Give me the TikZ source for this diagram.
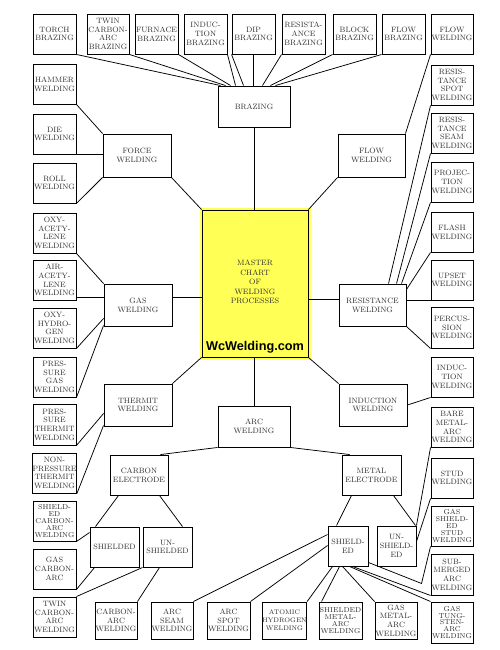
\documentclass[tikz,border=0pt]{standalone}
\usepackage{fontspec}
\newfontfamily\arialfont{Liberation Sans}
\usetikzlibrary{calc}
\definecolor{yel}{RGB}{255,255,85}
\definecolor{ink}{RGB}{45,45,45}
\tikzset{
  box/.style={draw=black, line width=0.95pt, inner sep=0pt, align=center, text=ink,
              font=\fontsize{7.7}{8.7}\selectfont},
  tight/.style={font=\fontsize{7.1}{6.9}\selectfont},
  small/.style={font=\fontsize{6.6}{8.2}\selectfont},
  conn/.style={line width=0.75pt, draw=black},
}
\newcommand\mkbox[7][]{%
  \node[box,#1,minimum width={(#5-#3)*1pt},minimum height={(#6-#4)*1pt}]
    (#2) at ({(#3+#5)/2},{(#4+#6)/2}) {#7};}
\begin{document}
\begin{tikzpicture}[x=1pt,y=-1pt]
\useasboundingbox[fill=white] (0,0) rectangle (500,650);
% ---------- top row
\mkbox{torch}{33}{14}{76}{54}{TORCH\\BRAZING}
\mkbox{twin}{87}{14}{129}{54}{TWIN\\CARBON-\\ARC\\BRAZING}
\mkbox{furnace}{135}{14}{178}{54}{FURNACE\\BRAZING}
\mkbox{inducb}{184}{14}{227}{54}{INDUC-\\TION\\BRAZING}
\mkbox{dip}{232}{14}{275}{54}{DIP\\BRAZING}
\mkbox{resb}{282}{14}{325}{54}{RESISTA-\\ANCE\\BRAZING}
\mkbox{block}{333}{14}{376}{54}{BLOCK\\BRAZING}
\mkbox{flowb}{382}{14}{425}{54}{FLOW\\BRAZING}
\mkbox{floww}{431}{14}{473}{54}{FLOW\\WELDING}
% ---------- left column
\mkbox{hammer}{33}{64}{76}{104}{HAMMER\\WELDING}
\mkbox{die}{33}{114}{76}{154}{DIE\\WELDING}
\mkbox{roll}{33}{163}{76}{203}{ROLL\\WELDING}
\mkbox{oxyac}{33}{213}{76}{253}{OXY-\\ACETY-\\LENE\\WELDING}
\mkbox{airac}{33}{260}{76}{300}{AIR-\\ACETY-\\LENE\\WELDING}
\mkbox{oxyhy}{33}{308}{76}{348}{OXY-\\HYDRO-\\GEN\\WELDING}
\mkbox{presgas}{33}{357}{76}{397}{PRES-\\SURE\\GAS\\WELDING}
\mkbox{presth}{33}{404}{76}{445}{PRES-\\SURE\\THERMIT\\WELDING}
\mkbox{nonpres}{33}{453}{76}{493}{NON-\\PRESSURE\\THERMIT\\WELDING}
\mkbox[tight]{shcarb}{33}{501}{76}{541}{SHIELD-\\ED\\CARBON-\\ARC\\WELDING}
\mkbox{gascarb}{33}{549}{76}{589}{GAS\\CARBON-\\ARC}
\mkbox{twincarb}{33}{597}{76}{637}{TWIN\\CARBON-\\ARC\\WELDING}
% ---------- right column
\mkbox{rspot}{431}{65}{473}{105}{RESIS-\\TANCE\\SPOT\\WELDING}
\mkbox{rseam}{431}{113}{473}{153}{RESIS-\\TANCE\\SEAM\\WELDING}
\mkbox{proj}{431}{162}{473}{202}{PROJEC-\\TION\\WELDING}
\mkbox{flash}{431}{212}{473}{252}{FLASH\\WELDING}
\mkbox{upset}{431}{260}{473}{300}{UPSET\\WELDING}
\mkbox{percus}{431}{307}{473}{348}{PERCUS-\\SION\\WELDING}
\mkbox{inducw}{431}{357}{473}{397}{INDUC-\\TION\\WELDING}
\mkbox{bare}{431}{407}{473}{447}{BARE\\METAL-\\ARC\\WELDING}
\mkbox{stud}{431}{458}{473}{498}{STUD\\WELDING}
\mkbox[tight]{gsstud}{431}{506}{473}{546}{GAS\\SHIELD-\\ED\\STUD\\WELDING}
\mkbox{subarc}{431}{554}{473}{595}{SUB-\\MERGED\\ARC\\WELDING}
\mkbox[tight]{gtaw}{431}{602}{473}{643}{GAS\\TUNG-\\STEN-\\ARC\\WELDING}
% ---------- bottom row
\mkbox{cawb}{95}{602}{137}{639}{CARBON-\\ARC\\WELDING}
\mkbox{arcseam}{151}{602}{193}{639}{ARC\\SEAM\\WELDING}
\mkbox{arcspot}{207}{602}{250}{639}{ARC\\SPOT\\WELDING}
\mkbox[small]{atomic}{263}{602}{306}{639}{ATOMIC\\HYDROGEN\\WELDING}
\mkbox[tight]{smaw}{319}{602}{362}{639}{SHIELDED\\METAL-\\ARC\\WELDING}
\mkbox{gmaw}{375}{602}{417}{639}{GAS\\METAL-\\ARC\\WELDING}
% ---------- intermediate boxes
\mkbox{braz}{218}{86}{290}{127}{BRAZING}
\mkbox{force}{103}{134}{171}{177}{FORCE\\WELDING}
\mkbox{flowm}{338}{134}{405}{177}{FLOW\\WELDING}
\fill[yel] (199.5,207.5) rectangle (310.5,359.5);
\node[box, fill=yel, minimum width=106pt, minimum height=147pt] (master) at (255,283.5) {};
\node[text=ink, align=center, font=\fontsize{7.7}{9.6}\selectfont] (mastertxt) at (255,282) {MASTER\\CHART\\OF\\WELDING\\PROCESSES};
\node[text=black, inner sep=0pt, font=\arialfont\bfseries\fontsize{12.7}{13}\selectfont] (site) at (255,347) {WcWelding.com};
\mkbox{gas}{104}{284}{172}{326}{GAS\\WELDING}
\mkbox{resw}{339}{284}{406}{326}{RESISTANCE\\WELDING}
\mkbox{thermit}{104}{384}{172}{426}{THERMIT\\WELDING}
\mkbox{induc}{339}{384}{407}{426}{INDUCTION\\WELDING}
\mkbox{arc}{218}{406}{290}{447}{ARC\\WELDING}
\mkbox{carbel}{110}{455}{168}{495}{CARBON\\ELECTRODE}
\mkbox{metel}{342}{455}{401}{495}{METAL\\ELECTRODE}
\mkbox{cshield}{90}{527}{139}{567}{SHIELDED}
\mkbox{cunsh}{143}{527}{192}{567}{UN-\\SHIELDED}
\mkbox{mshield}{328}{526}{368}{566}{SHIELD-\\ED}
\mkbox{munsh}{377}{526}{416}{566}{UN-\\SHIELD-\\ED}
% ---------- connectors: brazing
\draw[conn] (torch.south east) -- ($(braz.north west)+(3,0)$);
\draw[conn] (twin.south east) -- ($(braz.north west)+(8,0)$);
\draw[conn] (furnace.south east) -- ($(braz.north west)+(13,0)$);
\draw[conn] (inducb.south east) -- ($(braz.north west)+(18,0)$);
\draw[conn] (dip.south west) -- ($(braz.north west)+(26,0)$);
\draw[conn] (dip.south) -- (dip.south |- braz.north);
\draw[conn] (resb.south west) -- ($(braz.north east)+(-28,0)$);
\draw[conn] (block.south west) -- ($(braz.north east)+(-20,0)$);
\draw[conn] (flowb.south west) -- ($(braz.north east)+(-15,0)$);
\draw[conn] (braz.south) -- (braz.south |- master.north);
% force
\draw[conn] (hammer.south east) -- (force.north west);
\draw[conn] (die.south east) -- (die.south east -| force.west);
\draw[conn] (roll.south east) -- (force.south west);
\draw[conn] (force.south east) -- (master.north west);
% flow
\draw[conn] (flowm.north east) -- (floww.south west);
\draw[conn] (flowm.south west) -- (master.north east);
% gas
\path ($(gas.north west)+(0,14)$) coordinate (g1);
\path ($(gas.north east)+(0,14)$) coordinate (g2);
\draw[conn] (oxyac.south east) -- (gas.north west);
\draw[conn] (g1 -| airac.east) -- (g1);
\draw[conn] (g2) -- (g2 -| master.west);
\draw[conn] (oxyhy.south east) -- ($(gas.south west)+(0,-8)$);
\draw[conn] (presgas.south east) -- ($(gas.south west)+(0,-1)$);
% thermit
\draw[conn] (master.south west) -- (thermit.north east);
\draw[conn] (presth.south east) -- ($(thermit.south west)+(0,-13)$);
\draw[conn] (nonpres.south east) -- ($(thermit.south west)+(0,-1)$);
% resistance
\path ($(resw.north west)+(0,16)$) coordinate (r1);
\draw[conn] (r1 -| master.east) -- (r1);
\draw[conn] (upset.south west) -- (upset.south west -| resw.east);
\draw[conn] (rspot.south west) -- ($(resw.north west)+(50,0)$);
\draw[conn] (rseam.south west) -- ($(resw.north west)+(58,0)$);
\draw[conn] (proj.south west) -- ($(resw.north west)+(63,0)$);
\draw[conn] (flash.south west) -- ($(resw.north east)+(0,6)$);
\draw[conn] (resw.south east) -- (percus.south west);
% induction
\draw[conn] (master.south east) -- (induc.north west);
\draw[conn] (induc.east) -- (inducw.south west);
% arc
\draw[conn] (arc.north) -- (arc.north |- master.south);
\draw[conn] (arc.south west) -- ($(carbel.north east)+(-8,0)$);
\draw[conn] (arc.south east) -- ($(metel.north west)+(8,0)$);
% carbon electrode
\draw[conn] ($(carbel.south west)+(9,0)$) -- ($(cshield.north west)+(6,0)$);
\draw[conn] ($(carbel.south east)+(-9,0)$) -- ($(cunsh.north east)+(-10,0)$);
\draw[conn] ($(cshield.north west)+(0,6)$) -- (shcarb.south east);
\draw[conn] ($(cshield.south west)+(5,0)$) -- (gascarb.south east);
\draw[conn] (cunsh.south west) -- (twincarb.north east);
\draw[conn] ($(cunsh.south west)+(17,0)$) -- (cawb.north east);
% metal electrode
\draw[conn] ($(metel.south west)+(10,0)$) -- ($(mshield.north west)+(9,0)$);
\draw[conn] ($(metel.south east)+(-8,0)$) -- ($(munsh.north east)+(-1,0)$);
\draw[conn] (munsh.north east) -- (bare.south west);
\draw[conn] ($(munsh.north east)+(0,16)$) -- (stud.south west);
\draw[conn] ($(mshield.north west)+(0,9)$) -- (arcseam.north east);
\draw[conn] ($(mshield.north west)+(0,20)$) -- (arcspot.north east);
\draw[conn] ($(mshield.south west)+(5,0)$) -- (atomic.north east);
\draw[conn] ($(mshield.south west)+(12,0)$) -- ($(smaw.north west)+(3,0)$);
\draw[conn] ($(mshield.south west)+(15,0)$) -- (gmaw.north west);
\draw[conn] ($(mshield.south east)+(0,-4)$) -- ($(gsstud.south west)+(-9,37)$) -- (gsstud.south west);
\draw[conn] ($(mshield.south west)+(25,0)$) -- (subarc.south west);
\draw[conn] ($(mshield.south west)+(22,0)$) -- (gtaw.north west);
\end{tikzpicture}
\end{document}
